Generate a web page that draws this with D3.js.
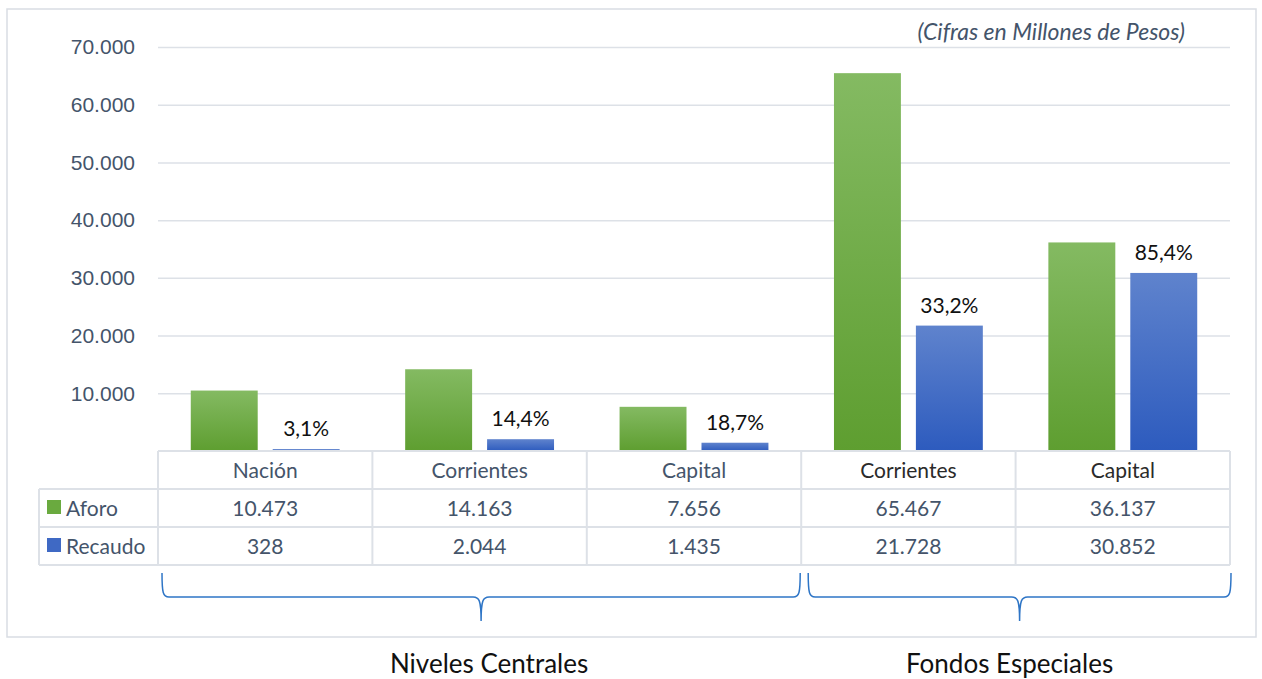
<!DOCTYPE html>
<html>
<head>
<meta charset="utf-8">
<script src="https://cdn.jsdelivr.net/npm/d3@7"></script>
<style>
  body { margin: 0; background: #fff; }
  svg { display: block; font-family: Lato, "Open Sans", sans-serif; }
</style>
</head>
<body>
<div id="chart-area"></div>
<script>
// data
const categories = ['Nación', 'Corrientes', 'Capital', 'Corrientes', 'Capital'];
const aforo = [10473, 14163, 7656, 65467, 36137];
const recaudo = [328, 2044, 1435, 21728, 30852];
const pctLabels = ['3,1%', '14,4%', '18,7%', '33,2%', '85,4%'];
const seriesNames = ['Aforo', 'Recaudo'];
const yTicks = [10000, 20000, 30000, 40000, 50000, 60000, 70000];
const groupNames = ['Niveles Centrales', 'Fondos Especiales'];
const groupSpans = [[0, 2], [3, 4]];

const W = 1262, H = 679;
const plot = {left: 158, right: 1230, top: 47, bottom: 451};
const rowH = 38;
const textCol = '#44546A', gridCol = '#DDE1E7';

const loc = d3.formatLocale({decimal: ',', thousands: '.', grouping: [3], currency: ['$', '']});
const fmt = loc.format(',.0f');

const svg = d3.select('#chart-area')
    .append('svg')
    .attr('width', W)
    .attr('height', H);

const defs = svg.append('defs');
const grad = (id, c1, c2) => {
    const lg = defs.append('linearGradient').attr('id', id)
        .attr('x1', 0).attr('y1', 0).attr('x2', 0).attr('y2', 1);
    lg.append('stop').attr('offset', '0%').attr('stop-color', c1);
    lg.append('stop').attr('offset', '100%').attr('stop-color', c2);
};
grad('gGreen', '#84BA62', '#5E9E30');
grad('gBlue', '#5F83CD', '#2D5BBE');
const fills = ['url(#gGreen)', 'url(#gBlue)'];
const swatch = ['#6AAA3F', '#3F69C4'];

// outer frame
svg.append('rect')
    .attr('x', 7).attr('y', 9)
    .attr('width', 1249).attr('height', 628)
    .attr('fill', '#fff')
    .attr('stroke', '#D9DDE3')
    .attr('stroke-width', 1.5);

const xScale = d3.scaleBand()
    .domain(d3.range(categories.length))
    .range([plot.left, plot.right])
    .padding(0);

const xSub = d3.scaleBand()
    .domain(seriesNames)
    .range([0, xScale.bandwidth()])
    .paddingInner(0.183)
    .paddingOuter(0.4);

const yScale = d3.scaleLinear()
    .domain([0, 70000])
    .range([plot.bottom, plot.top]);

// gridlines + tick labels
const yAxisCall = d3.axisLeft(yScale)
    .tickValues(yTicks)
    .tickSize(-(plot.right - plot.left))
    .tickPadding(23)
    .tickFormat(fmt);

const yAxis = svg.append('g')
    .attr('transform', 'translate(' + plot.left + ', 0)')
    .call(yAxisCall);
yAxis.select('.domain').remove();
yAxis.selectAll('line').attr('stroke', gridCol).attr('stroke-width', 1.5);
yAxis.selectAll('text')
    .attr('fill', textCol)
    .attr('font-size', '21px');

// title
svg.append('text')
    .text('(Cifras en Millones de Pesos)')
    .attr('x', 1185).attr('y', 40)
    .attr('text-anchor', 'end')
    .attr('font-style', 'italic')
    .attr('font-size', '23px')
    .attr('fill', textCol);

// bars
const rows = categories.map((c, i) => ({i: i, values: [aforo[i], recaudo[i]]}));

const groups = svg.selectAll('g.cat').data(rows).enter()
    .append('g')
    .attr('class', 'cat')
    .attr('transform', d => 'translate(' + xScale(d.i) + ', 0)');

groups.selectAll('rect')
    .data(d => d.values.map((v, k) => ({k: k, v: v})))
    .enter().append('rect')
    .attr('x', d => xSub(seriesNames[d.k]))
    .attr('width', xSub.bandwidth())
    .attr('y', d => yScale(d.v))
    .attr('height', d => plot.bottom - yScale(d.v))
    .attr('fill', d => fills[d.k]);

groups.append('text')
    .text(d => pctLabels[d.i])
    .attr('x', xSub('Recaudo') + xSub.bandwidth() / 2)
    .attr('y', d => yScale(recaudo[d.i]) - 13)
    .attr('text-anchor', 'middle')
    .attr('font-size', '21px')
    .attr('fill', '#111');

// data table
const table = svg.append('g');
const tTop = plot.bottom;
const lineAttrs = sel => sel.attr('stroke', gridCol).attr('stroke-width', 2).attr('fill', 'none');

// horizontal lines
[0, 1, 2, 3].forEach(r => {
    const x0 = r === 0 ? plot.left : 39;
    table.append('line')
        .attr('x1', x0).attr('x2', plot.right)
        .attr('y1', tTop + r * rowH).attr('y2', tTop + r * rowH)
        .call(lineAttrs);
});
// vertical lines
table.append('line')
    .attr('x1', 39).attr('x2', 39)
    .attr('y1', tTop + rowH).attr('y2', tTop + 3 * rowH)
    .call(lineAttrs);
d3.range(categories.length + 1).forEach(i => {
    const x = i < categories.length ? xScale(i) : plot.right;
    table.append('line')
        .attr('x1', x).attr('x2', x)
        .attr('y1', tTop).attr('y2', tTop + 3 * rowH)
        .call(lineAttrs);
});

// header cells
table.selectAll('text.hdr').data(categories).enter()
    .append('text')
    .attr('class', 'hdr')
    .text(d => d)
    .attr('x', (d, i) => xScale(i) + xScale.bandwidth() / 2)
    .attr('y', tTop + 27)
    .attr('text-anchor', 'middle')
    .attr('font-size', '21px')
    .attr('fill', (d, i) => i < 3 ? textCol : '#2a2a2a');

// value cells
[aforo, recaudo].forEach((vals, r) => {
    const y = tTop + (r + 1) * rowH + 27;
    table.selectAll('text.v' + r).data(vals).enter()
        .append('text')
        .attr('class', 'v' + r)
        .text(d => fmt(d))
        .attr('x', (d, i) => xScale(i) + xScale.bandwidth() / 2)
        .attr('y', y)
        .attr('text-anchor', 'middle')
        .attr('font-size', '21px')
        .attr('fill', textCol);

    table.append('rect')
        .attr('x', 47).attr('y', tTop + (r + 1) * rowH + 11)
        .attr('width', 14).attr('height', 14)
        .attr('fill', swatch[r]);
    table.append('text')
        .text(seriesNames[r])
        .attr('x', 66).attr('y', y)
        .attr('font-size', '21px')
        .attr('fill', textCol);
});

// braces + group labels
const braceTop = 573, braceMid = 597, braceTip = 621;
const bracePath = (x1, x2) => {
    const m = (x1 + x2) / 2;
    return 'M' + x1 + ',' + braceTop +
        ' C' + x1 + ',' + (braceMid - 4) + ' ' + (x1 + 1) + ',' + braceMid + ' ' + (x1 + 7) + ',' + braceMid +
        ' L' + (m - 8) + ',' + braceMid +
        ' C' + (m - 2) + ',' + braceMid + ' ' + m + ',' + (braceMid + 3) + ' ' + m + ',' + braceTip +
        ' M' + m + ',' + braceTip +
        ' C' + m + ',' + (braceMid + 3) + ' ' + (m + 2) + ',' + braceMid + ' ' + (m + 8) + ',' + braceMid +
        ' L' + (x2 - 7) + ',' + braceMid +
        ' C' + (x2 - 1) + ',' + braceMid + ' ' + x2 + ',' + (braceMid - 4) + ' ' + x2 + ',' + braceTop;
};

groupSpans.forEach((span, gi) => {
    const x1 = xScale(span[0]) + (gi === 0 ? 4 : 7);
    const x2 = xScale(span[1]) + xScale.bandwidth() + (gi === 0 ? -1 : 1);
    svg.append('path')
        .attr('d', bracePath(x1, x2))
        .attr('fill', 'none')
        .attr('stroke', '#2E75C6')
        .attr('stroke-width', 1.5);
    svg.append('text')
        .text(groupNames[gi])
        .attr('x', (x1 + x2) / 2 + (gi === 0 ? 8 : -10))
        .attr('y', 673)
        .attr('text-anchor', 'middle')
        .attr('font-size', '26px')
        .attr('fill', '#111');
});
</script>
</body>
</html>
